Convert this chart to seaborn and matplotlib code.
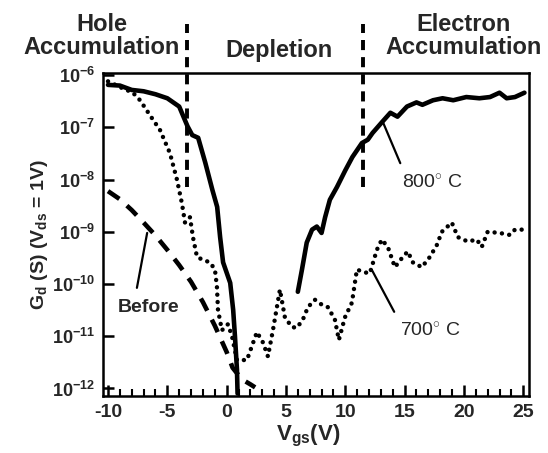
import numpy as np
import pandas as pd
import seaborn as sns
import matplotlib.pyplot as plt
import matplotlib.transforms as mtransforms

# 800 C anneal (solid), two branches
vgs_800_a = [-10, -9, -8, -7, -6, -5, -4, -3.3, -2.9, -2.4, -1.8, -1.2, -0.8, -0.55, -0.3, 0.3, 0.55, 0.7, 0.87, 0.92]
gd_800_a = [6.5e-7, 6.3e-7, 5.2e-7, 4.9e-7, 4.3e-7, 3.6e-7, 2.5e-7, 1.05e-7, 7.1e-8, 6.3e-8, 2.1e-8, 6.3e-9,
            3.0e-9, 7.9e-10, 2.6e-10, 1.05e-10, 3.2e-11, 1.0e-11, 2.3e-12, 8e-13]
vgs_800_b = [6.0, 6.35, 6.75, 7.2, 7.6, 8.0, 8.3, 8.7, 9.3, 10.0, 10.6, 11.4, 11.9, 12.3, 13.1, 13.8, 14.4, 15.2,
             16.0, 16.5, 17.4, 18.2, 19.1, 20.2, 21.3, 22.2, 23.0, 23.6, 24.3, 25.1]
gd_800_b = [7.1e-11, 1.9e-10, 6.2e-10, 1.1e-9, 1.26e-9, 9.5e-10, 1.9e-9, 4.1e-9, 7.2e-9, 1.5e-8, 2.7e-8, 5.0e-8,
            5.8e-8, 7.8e-8, 1.26e-7, 1.9e-7, 1.6e-7, 2.5e-7, 3.0e-7, 2.7e-7, 3.3e-7, 3.6e-7, 3.3e-7, 3.8e-7,
            3.6e-7, 3.8e-7, 4.6e-7, 3.6e-7, 3.8e-7, 4.6e-7]

# 700 C anneal (dotted)
vgs_700 = [-10, -9, -7.9, -7.3, -6.46, -5.62, -4.78, -4.19, -3.77, -3.51, -3.09, -2.84, -2.5, -2.0, -1.41, -0.99,
           -0.82, -0.73, -0.4, 0.11, 0.45, 0.87, 1.71, 2.55, 3.06, 3.48, 3.9, 4.49, 4.91, 5.5, 5.92, 6.43, 6.85,
           7.44, 8.03, 8.53, 9.12, 9.46, 9.97, 10.56, 10.98, 11.48, 12.07, 12.66, 13.08, 13.59, 14.18, 14.85,
           15.27, 15.69, 16.45, 17.13, 17.72, 18.14, 18.98, 19.49, 20.33, 21.09, 21.5, 22.0, 23.0, 23.87, 24.3, 25.1]
gd_700 = [7.6e-7, 5.9e-7, 4.6e-7, 3.3e-7, 1.7e-7, 8.9e-8, 3.2e-8, 1.0e-8, 3.5e-9, 1.5e-9, 1.9e-9, 7.9e-10,
          3.3e-10, 2.9e-10, 2.6e-10, 1.9e-10, 8.9e-11, 3.2e-11, 1.3e-11, 1.7e-11, 1.0e-11, 3.5e-12, 3.5e-12,
          1.2e-11, 7.6e-12, 4.1e-12, 1.3e-11, 7.8e-11, 2.3e-11, 1.5e-11, 1.45e-11, 2.1e-11, 3.6e-11, 5.0e-11,
          4.0e-11, 3.6e-11, 2.1e-11, 8.5e-12, 2.3e-11, 4.4e-11, 1.9e-10, 1.7e-10, 1.6e-10, 4.5e-10, 7.1e-10,
          5.1e-10, 2.1e-10, 3.3e-10, 4.2e-10, 2.6e-10, 2.1e-10, 3.3e-10, 5.6e-10, 1.0e-9, 1.5e-9, 7.9e-10,
          6.5e-10, 7.1e-10, 5.1e-10, 1.0e-9, 9.5e-10, 8.7e-10, 1.1e-9, 1.1e-9]

# before anneal (dashed)
vgs_before = [-10, -9, -8, -7, -6, -5, -4, -3, -2, -1, 0, 0.5, 1, 1.5, 2, 2.4]
gd_before = [6.0e-9, 4.2e-9, 2.6e-9, 1.5e-9, 8.5e-10, 4.5e-10, 2.3e-10, 1.1e-10, 4.5e-11, 1.6e-11, 5.0e-12,
             2.5e-12, 1.8e-12, 1.4e-12, 1.2e-12, 1.05e-12]

# region boundaries and labels
boundaries = [-3.3, 11.5]
regions = ['Hole\nAccumulation', 'Depletion', 'Electron\nAccumulation']
region_x = [-10.5, 4.4, 20.0]
region_y = [1.113, 1.071, 1.113]

decades = [-12, -11, -10, -9, -8, -7, -6]
xticks_major = [-10, -5, 0, 5, 10, 15, 20, 25]

df800 = pd.DataFrame({'vgs': vgs_800_a + vgs_800_b, 'gd': gd_800_a + gd_800_b,
                      'branch': ['a'] * len(vgs_800_a) + ['b'] * len(vgs_800_b)})
df700 = pd.DataFrame({'vgs': vgs_700, 'gd': gd_700})
dfbefore = pd.DataFrame({'vgs': vgs_before, 'gd': gd_before})

sns.set_style('ticks')
plt.rcParams['font.family'] = ['Liberation Sans', 'DejaVu Sans']
plt.rcParams['mathtext.fontset'] = 'custom'
plt.rcParams['mathtext.rm'] = 'Liberation Sans'
plt.rcParams['mathtext.bf'] = 'Liberation Sans:bold'
plt.rcParams['mathtext.default'] = 'bf'

fig = plt.figure(figsize=(5.48, 4.53), dpi=100)
ax = fig.add_axes([0.188, 0.126, 0.777, 0.713])
ax.set_yscale('log')

sns.lineplot(data=df800, x='vgs', y='gd', units='branch', estimator=None, sort=False,
             color='black', lw=3.3, ax=ax)
sns.lineplot(data=df700, x='vgs', y='gd', estimator=None, sort=False, color='black', lw=3.2,
             linestyle=(0, (0.01, 1.65)), dash_capstyle='round', ax=ax)
sns.lineplot(data=dfbefore, x='vgs', y='gd', estimator=None, sort=False, color='black', lw=3.3,
             linestyle=(0, (3.0, 2.2)), ax=ax)

ax.set_xlim(-10.42, 25.47)
ax.set_ylim(7.2e-13, 1.1e-6)

# boundary lines reaching above the frame
trans = mtransforms.blended_transform_factory(ax.transData, ax.transAxes)
for b in boundaries:
    ax.plot([b, b], [0.647, 1.15], transform=trans, color='black', lw=2.8,
            linestyle=(0, (2.6, 1.8)), clip_on=False)
for name, xr, yr in zip(regions, region_x, region_y):
    ax.text(xr, yr, name, transform=trans, ha='center', va='center', fontsize=17,
            fontweight='bold', linespacing=1.0)

ax.set_xticks(xticks_major)
ax.set_xticks(range(-10, 26), minor=True)
ax.set_xticklabels([str(v) for v in xticks_major], fontsize=14, fontweight='bold')
ax.set_yticks([10.0 ** d for d in decades])
ax.set_yticks([], minor=True)
ax.set_yticklabels([r'$10^{%d}$' % d for d in decades], fontsize=13)
ax.tick_params(axis='both', which='major', direction='in', length=8, width=1.8, color='black', pad=6)
ax.tick_params(axis='x', which='minor', direction='in', length=5, width=1.5, color='black')
for s in ax.spines.values():
    s.set_linewidth(1.8)
    s.set_color('black')

ax.set_xlabel(r'V$_{gs}$(V)', fontsize=16, fontweight='bold')
ax.xaxis.set_label_coords(0.481, -0.085)
ax.set_ylabel(r'G$_{d}$ (S) (V$_{ds}$ = 1V)', fontsize=14, fontweight='bold')
ax.yaxis.set_label_coords(-0.125, 0.5)

arrow = dict(arrowstyle='-', color='black', lw=1.6, shrinkA=6, shrinkB=0)
ax.annotate('800$^{\\circ}$ C', xy=(13.17, 1.26e-7), xytext=(14.77, 8.5e-9), fontsize=14,
            fontweight='normal', ha='left', va='center',
            arrowprops=dict(arrow, relpos=(0.05, 1.0)))
ax.annotate('700$^{\\circ}$ C', xy=(12.24, 1.86e-10), xytext=(14.6, 1.23e-11), fontsize=14,
            fontweight='normal', ha='left', va='center',
            arrowprops=dict(arrow, relpos=(0.0, 1.0)))
ax.annotate('Before', xy=(-6.7, 9.5e-10), xytext=(-6.55, 3.5e-11), fontsize=14,
            fontweight='bold', ha='center', va='center',
            arrowprops=dict(arrow, relpos=(0.27, 1.0)))

fig.savefig('out.png', dpi=100)
